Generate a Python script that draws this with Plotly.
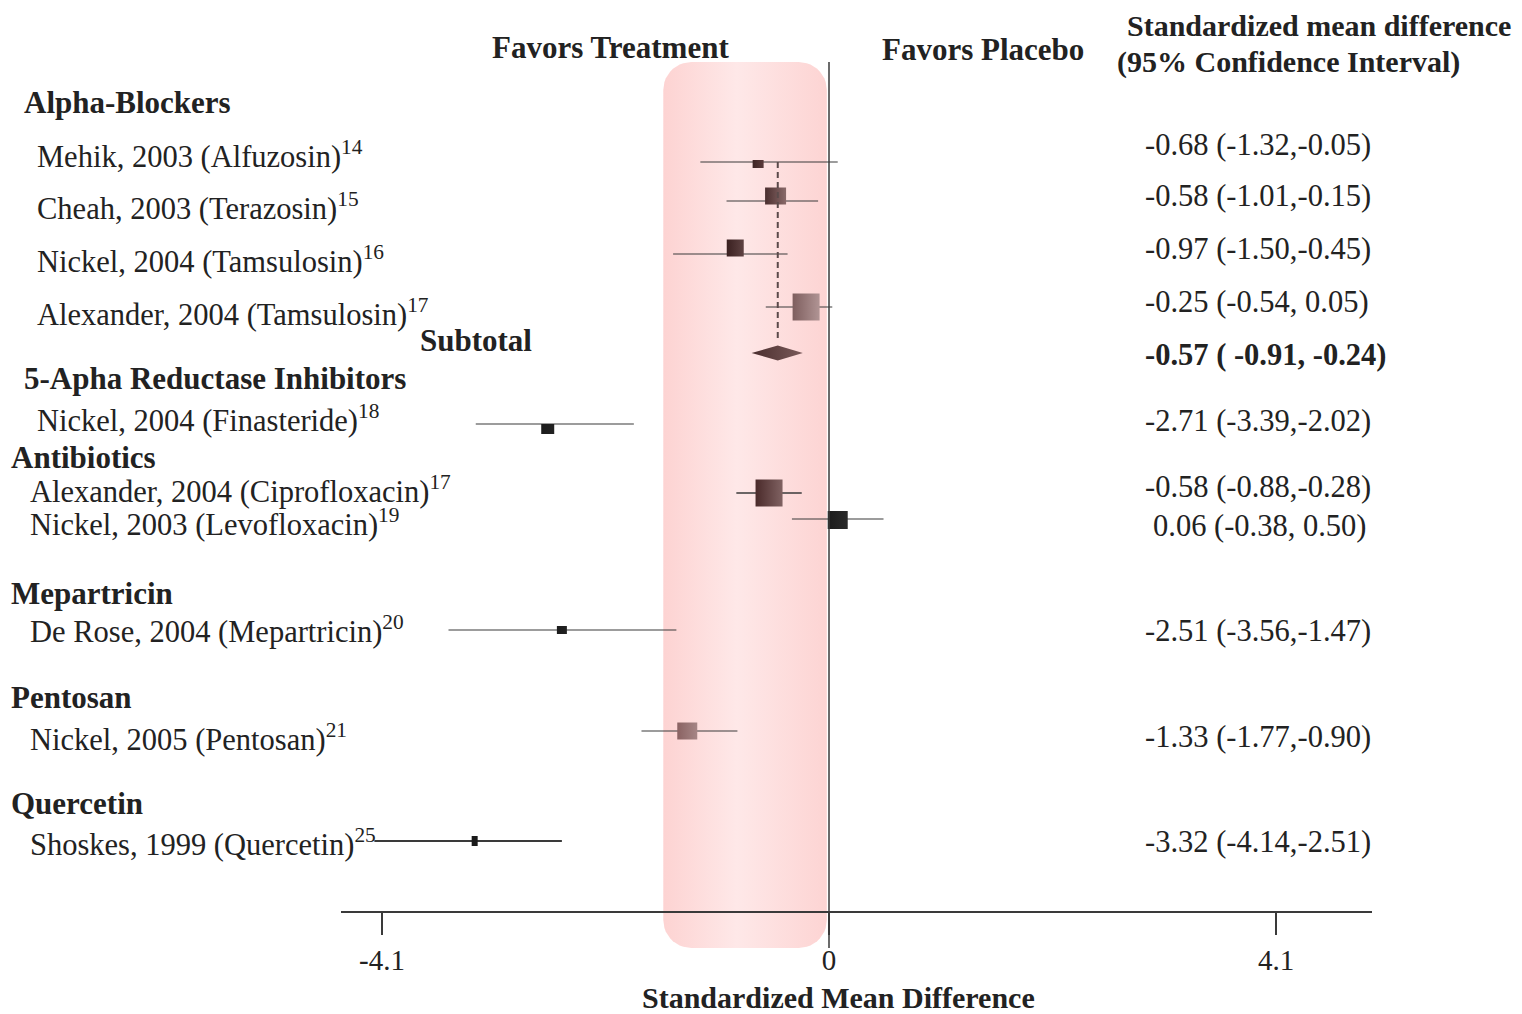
import numpy as np
import plotly.graph_objects as go

# ---------------- data ----------------
groups = ["Alpha-Blockers", "5-Apha Reductase Inhibitors", "Antibiotics",
          "Mepartricin", "Pentosan", "Quercetin"]
studies = ["Mehik, 2003 (Alfuzosin)<sup>14</sup>",
           "Cheah, 2003 (Terazosin)<sup>15</sup>",
           "Nickel, 2004 (Tamsulosin)<sup>16</sup>",
           "Alexander, 2004 (Tamsulosin)<sup>17</sup>",
           "Nickel, 2004 (Finasteride)<sup>18</sup>",
           "Alexander, 2004 (Ciprofloxacin)<sup>17</sup>",
           "Nickel, 2003 (Levofloxacin)<sup>19</sup>",
           "De Rose, 2004 (Mepartricin)<sup>20</sup>",
           "Nickel, 2005 (Pentosan)<sup>21</sup>",
           "Shoskes, 1999 (Quercetin)<sup>25</sup>"]
# values as drawn in the picture
smd = [-0.65, -0.49, -0.86, -0.21, -2.58, -0.55, 0.08, -2.45, -1.30, -3.25]
ci_lo = [-1.18, -0.94, -1.43, -0.58, -3.24, -0.85, -0.34, -3.49, -1.72, -4.17]
ci_hi = [0.08, -0.10, -0.38, 0.03, -1.79, -0.25, 0.50, -1.40, -0.84, -2.45]
ci_text = ["-0.68 (-1.32,-0.05)", "-0.58 (-1.01,-0.15)", "-0.97 (-1.50,-0.45)",
           "-0.25 (-0.54, 0.05)", "-2.71 (-3.39,-2.02)", "-0.58 (-0.88,-0.28)",
           "0.06 (-0.38, 0.50)", "-2.51 (-3.56,-1.47)", "-1.33 (-1.77,-0.90)",
           "-3.32 (-4.14,-2.51)"]
subtotal_smd, subtotal_lo, subtotal_hi = -0.47, -0.71, -0.24
subtotal_text = "<b>-0.57 ( -0.91, -0.24)</b>"
tick_vals = [-4.1, 0, 4.1]
tick_labels = ["-4.1", "0", "4.1"]
band_range = [-1.52, -0.02]

# ---------------- layout / style constants ----------------
REF_W, REF_H = 1522, 1014
OFF = 8                      # page body margin
W, H = REF_W - OFF, REF_H - OFF
X0_PX, PX_PER_UNIT = 829, 447 / 4.1
FONT = "Liberation Serif, Times New Roman, serif"
FS = 30.5
FSB = 31
TXT = "#222222"

sq_y = [164, 196, 248, 307, 429, 493, 520, 630, 731, 841]
ci_y = [162, 201, 254, 307, 424, 493, 519, 630, 731, 841]
sq_px = [(11, 8), (21, 17), (17, 17), (27, 27), (13, 10), (27, 27), (20, 18), (10, 8), (20, 17), (6, 10)]
sq_col = [("#3e2424", "#5a3a3a"), ("#4a2e2e", "#8a6a6a"), ("#3a2020", "#5e4242"),
          ("#7e5e5e", "#b09494"), ("#1c1c1c", "#222222"), ("#4a2a2a", "#806262"),
          ("#1c1c1c", "#2a2a2a"), ("#1c1c1c", "#222222"), ("#8a6262", "#a68686"),
          ("#1a1a1a", "#1a1a1a")]
ci_w = [1.2, 1.2, 1.2, 1.2, 1.2, 1.5, 1.2, 1.2, 1.2, 2.0]
label_x = [35, 35, 35, 35, 35, 28, 28, 28, 28, 28]
label_y = [154, 206, 259, 312, 418, 489, 522, 629, 737, 842]
value_x = [1143, 1143, 1143, 1143, 1143, 1143, 1151, 1143, 1143, 1143]
value_y = [145, 196, 249, 302, 421, 487, 526, 631, 737, 842]
group_pos = [(22, 102), (22, 378), (9, 457), (9, 593), (9, 697), (9, 803)]
diamond_y, diamond_h = 353, 15
band_top, band_bot, band_r = 62, 948, 28
axis_y, axis_l, axis_r = 912, 341, 1372

def px2x(px):
    return (px - X0_PX) / PX_PER_UNIT

fig = go.Figure()

# pink highlight band (rounded rectangle with horizontal gradient)
rx = band_r / PX_PER_UNIT
ry = band_r
xa, xb = band_range
corners = [(xb - rx, band_top + ry, -np.pi / 2, 0), (xb - rx, band_bot - ry, 0, np.pi / 2),
           (xa + rx, band_bot - ry, np.pi / 2, np.pi), (xa + rx, band_top + ry, np.pi, 1.5 * np.pi)]
bx, by = [], []
for cx, cy, t0, t1 in corners:
    t = np.linspace(t0, t1, 12)
    bx += list(cx + rx * np.cos(t))
    by += list(cy + ry * np.sin(t))
bx.append(bx[0]); by.append(by[0])
fig.add_trace(go.Scatter(x=bx, y=by, mode="lines", line=dict(width=0), fill="toself",
                         fillgradient=dict(type="horizontal", start=xa, stop=xb,
                                           colorscale=[[0, "#fdd3d2"], [0.45, "#fee8e8"], [1, "#fdd4d3"]]),
                         hoverinfo="skip", showlegend=False))

# CI lines
for i in range(len(smd)):
    fig.add_trace(go.Scatter(x=[ci_lo[i], ci_hi[i]], y=[ci_y[i], ci_y[i]], mode="lines",
                             line=dict(color="#3a3a3a", width=ci_w[i]),
                             hoverinfo="skip", showlegend=False))

# squares
for i in range(len(smd)):
    hw = sq_px[i][0] / 2 / PX_PER_UNIT
    hh = sq_px[i][1] / 2
    xs = [smd[i] - hw, smd[i] + hw, smd[i] + hw, smd[i] - hw, smd[i] - hw]
    ys = [sq_y[i] - hh, sq_y[i] - hh, sq_y[i] + hh, sq_y[i] + hh, sq_y[i] - hh]
    fig.add_trace(go.Scatter(x=xs, y=ys, mode="lines", line=dict(width=0), fill="toself",
                             fillgradient=dict(type="horizontal", start=smd[i] - hw, stop=smd[i] + hw,
                                               colorscale=[[0, sq_col[i][0]], [1, sq_col[i][1]]]),
                             hoverinfo="skip", showlegend=False))

# subtotal diamond
dx = [subtotal_lo, subtotal_smd, subtotal_hi, subtotal_smd, subtotal_lo]
dy = [diamond_y, diamond_y - diamond_h / 2, diamond_y, diamond_y + diamond_h / 2, diamond_y]
fig.add_trace(go.Scatter(x=dx, y=dy, mode="lines", line=dict(width=0), fill="toself",
                         fillgradient=dict(type="horizontal", start=subtotal_lo, stop=subtotal_hi,
                                           colorscale=[[0, "#4a2e2e"], [1, "#7a5a5a"]]),
                         hoverinfo="skip", showlegend=False))

# dummy trace for the visible axis
fig.add_trace(go.Scatter(x=[0], y=[-500], xaxis="x2", yaxis="y", mode="markers",
                         marker=dict(opacity=0), hoverinfo="skip", showlegend=False))

shapes = [
    dict(type="line", xref="x", yref="y", x0=0, x1=0, y0=band_top, y1=band_bot,
         line=dict(color="#3a3a3a", width=1.5)),
    dict(type="line", xref="x", yref="y", x0=subtotal_smd, x1=subtotal_smd, y0=162, y1=342,
         line=dict(color="#5a4a4a", width=2, dash="6px,4px")),
]

ann = []
def add(text, xpx, ypx, anchor="left", bold=False, size=None):
    t = f"<b>{text}</b>" if bold else text
    fs = size if size else (FSB if bold else FS)
    ann.append(dict(text=t, x=(xpx - OFF) / W, xref="paper", y=ypx, yref="y", xanchor=anchor,
                    yanchor="middle", showarrow=False,
                    font=dict(family=FONT, size=fs, color=TXT)))

for i, s in enumerate(studies):
    add(s, label_x[i], label_y[i])
    add(ci_text[i], value_x[i], value_y[i])
for g, (gx, gy) in zip(groups, group_pos):
    add(g, gx, gy, bold=True)
add("Subtotal", 418, 340, bold=True)
add(subtotal_text, 1143, 355)
add("Favors Treatment", 610, 47, anchor="center", bold=True)
add("Favors Placebo", 983, 49, anchor="center", bold=True)
add("Standardized mean difference", 1125, 25, bold=True, size=30)
add("(95% Confidence Interval)", 1115, 62, bold=True, size=30)
add("Standardized Mean Difference", 838, 997, anchor="center", bold=True, size=30)

fig.update_layout(
    width=W, height=H, margin=dict(l=0, r=0, t=0, b=0),
    paper_bgcolor="white", plot_bgcolor="rgba(0,0,0,0)",
    xaxis=dict(range=[px2x(OFF), px2x(OFF + W)], domain=[0, 1], visible=False, fixedrange=True),
    yaxis=dict(range=[OFF + H, OFF], domain=[0, 1], visible=False, fixedrange=True),
    xaxis2=dict(domain=[(axis_l - OFF) / W, (axis_r - OFF) / W], range=[px2x(axis_l), px2x(axis_r)],
                anchor="free", position=(OFF + H - axis_y) / H, side="bottom",
                showline=True, linecolor="#3a3a3a", linewidth=1.5,
                ticks="outside", ticklen=22, tickwidth=1.5, tickcolor="#3a3a3a",
                tickvals=tick_vals, ticktext=tick_labels, ticklabelstandoff=0,
                tickfont=dict(family=FONT, size=29, color=TXT),
                showgrid=False, zeroline=False, fixedrange=True),
    shapes=shapes, annotations=ann, showlegend=False,
)

fig.write_html("out.html")
